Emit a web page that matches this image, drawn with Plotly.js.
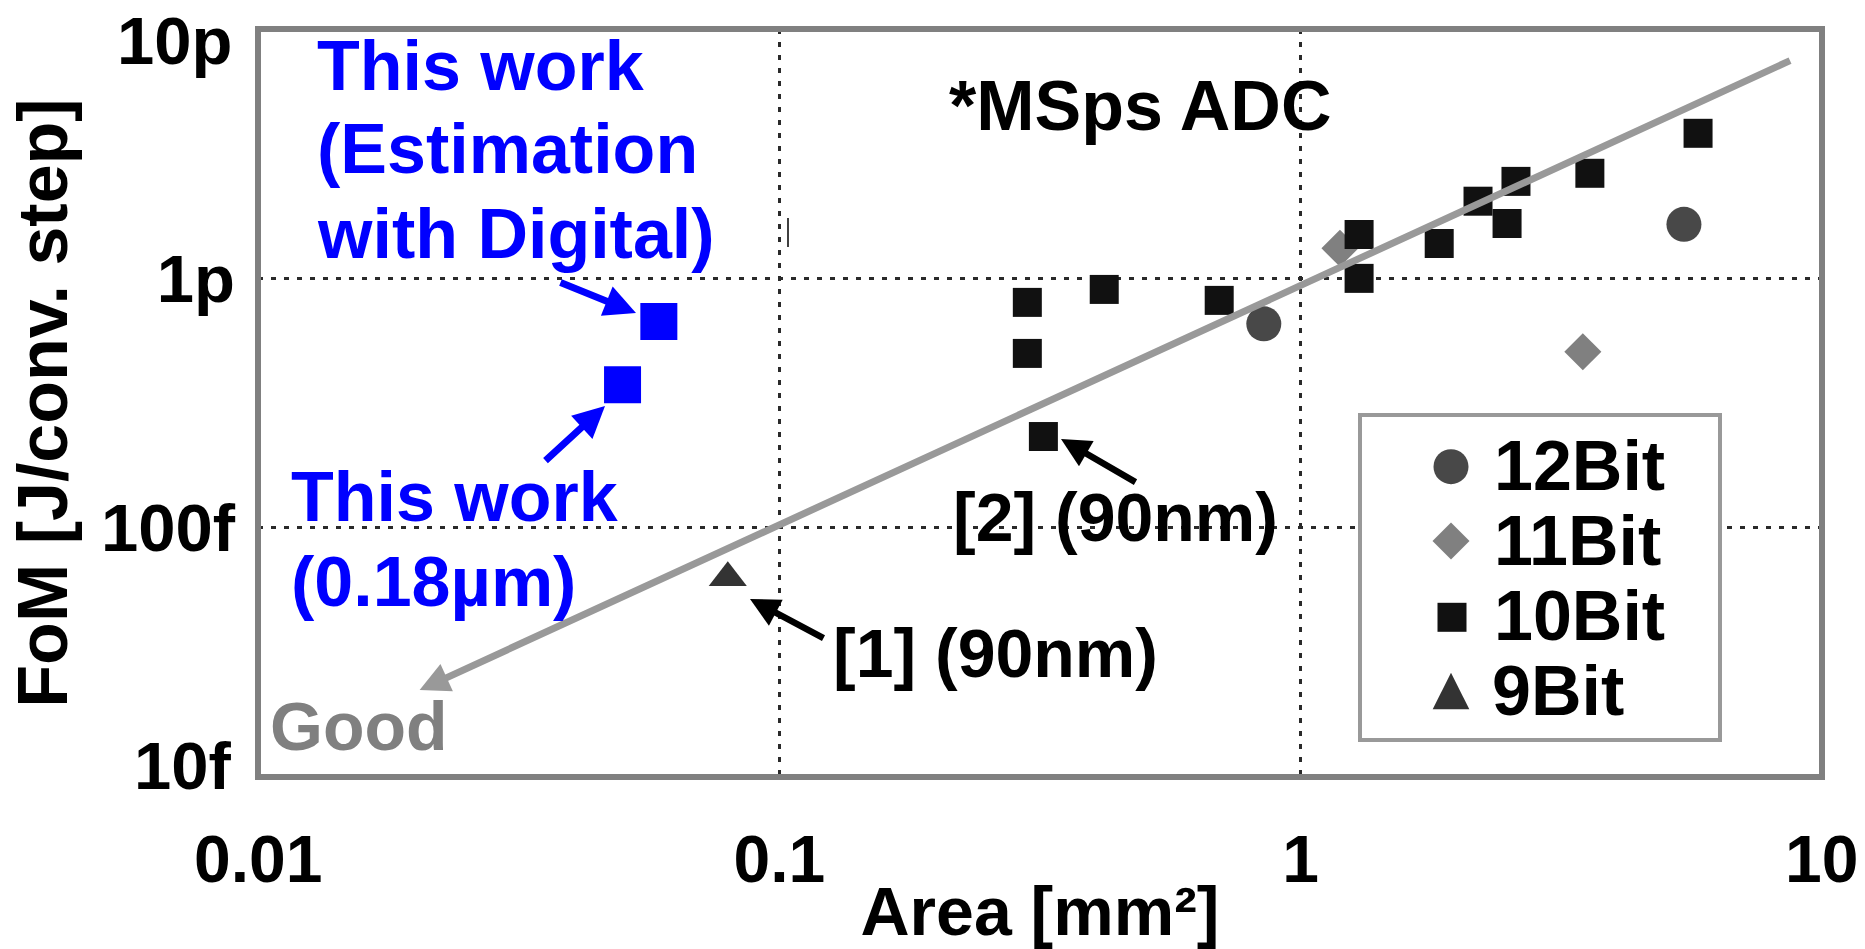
<!DOCTYPE html>
<html>
<head>
<meta charset="utf-8">
<script src="https://cdn.plot.ly/plotly-3.0.1.min.js"></script>
<style>html,body{margin:0;padding:0;background:#fff;}#chart{width:1865px;height:949px;}</style>
</head>
<body>
<div id="chart"></div>
<script>
// ---------------- data (Area in mm^2, FoM in J/conv. step) ----------------
const bit12Area = [0.850, 5.44];
const bit12FoM  = [0.657e-12, 1.647e-12];

const bit11Area = [1.19, 3.48];
const bit11FoM  = [1.32e-12, 0.508e-12];

const bit10Area = [0.299, 0.299, 0.420, 0.698, 1.295, 1.295, 1.845, 2.19, 2.49, 2.59, 3.59, 5.79, 0.321];
const bit10FoM  = [0.801e-12, 0.500e-12, 0.903e-12, 0.816e-12, 1.50e-12, 1.00e-12, 1.38e-12, 2.04e-12, 1.66e-12, 2.45e-12, 2.64e-12, 3.82e-12, 0.232e-12];

const bit9Area = [0.0796];
const bit9FoM  = [63e-15];

const thisWorkArea = [0.0587, 0.0500];
const thisWorkFoM  = [0.671e-12, 0.374e-12];

// trend line ("Good" direction), start -> arrow tip
const trendArea = [8.75, 0.0204];
const trendFoM  = [7.52e-12, 2.23e-14];

const xTickVals = [0.01, 0.1, 1, 10];
const xTickText = ['0.01', '0.1', '1', '10'];
const yTickVals = [1e-14, 1e-13, 1e-12, 1e-11];
const yTickText = ['10f', '100f', '1p', '10p'];

const legendNames = ['12Bit', '11Bit', '10Bit', '9Bit'];

// ---------------- layout helpers ----------------
const W = 1865, H = 949;
const M = {l: 258, r: 43, t: 29, b: 172};
const PW = W - M.l - M.r, PH = H - M.t - M.b;
const EPS = 0.0005;
const XR = [-2 - EPS, 1 + EPS], YR = [-14 - EPS, -11 + EPS];
const fx = p => (p - M.l) / PW;            // pixel x -> paper
const fy = p => (H - M.b - p) / PH;        // pixel y -> paper
const lx = p => XR[0] + (XR[1] - XR[0]) * fx(p);   // pixel x -> log10 axis value
const ly = p => YR[0] + (YR[1] - YR[0]) * fy(p);   // pixel y -> log10 axis value
const FONT = 'Liberation Sans, Arial, Helvetica, sans-serif';

function label(text, left, baseline, size, color, anchor) {
  return {
    xref: 'paper', yref: 'paper', x: fx(left), y: fy(baseline - 0.3465 * size),
    xanchor: anchor || 'left', yanchor: 'middle', showarrow: false, text: text,
    font: {family: FONT, size: size, color: color, weight: 'bold'}
  };
}
function arrow(tipX, tipY, dx, dy, color, width) {
  return {
    xref: 'x', yref: 'y', x: lx(tipX), y: ly(tipY), ax: dx, ay: dy,
    text: '', showarrow: true, arrowhead: 2, arrowsize: 0.9, arrowwidth: width,
    arrowcolor: color, standoff: 0, startstandoff: 0
  };
}

const markerLine = {width: 0};
const traces = [
  {x: bit12Area, y: bit12FoM, name: legendNames[0], type: 'scatter', mode: 'markers',
   marker: {symbol: 'circle', size: 35, color: '#484848', line: markerLine}},
  {x: bit11Area, y: bit11FoM, name: legendNames[1], type: 'scatter', mode: 'markers',
   marker: {symbol: 'diamond', size: 28.5, color: '#808080', line: markerLine}},
  {x: bit10Area, y: bit10FoM, name: legendNames[2], type: 'scatter', mode: 'markers',
   marker: {symbol: 'square', size: 29, color: '#111111', line: markerLine}},
  {x: bit9Area, y: bit9FoM, name: legendNames[3], type: 'scatter', mode: 'markers',
   marker: {symbol: 'triangle-up', size: 33, color: '#333333', line: markerLine}},
  {x: thisWorkArea, y: thisWorkFoM, name: 'This work', type: 'scatter', mode: 'markers',
   marker: {symbol: 'square', size: 37, color: '#0000ff', line: markerLine}}
];

const gridStyle = {showgrid: true, gridcolor: '#2a2a2a', gridwidth: 2.5, griddash: '5px,8px'};

const annotations = [
  // trend line with arrow pointing to "Good"
  {xref: 'x', yref: 'y', axref: 'x', ayref: 'y',
   x: Math.log10(trendArea[1]), y: Math.log10(trendFoM[1]),
   ax: Math.log10(trendArea[0]), ay: Math.log10(trendFoM[0]),
   text: '', showarrow: true, arrowhead: 2, arrowsize: 0.85, arrowwidth: 7,
   arrowcolor: '#999999', standoff: 0, startstandoff: 0},
  arrow(636, 313, -77, -31, '#0000ff', 7),
  arrow(605, 406, -61, 56, '#0000ff', 7),
  arrow(750, 599, 75, 40, '#000000', 6.5),
  arrow(1061, 439, 76, 44, '#000000', 6.5),
  // end y tick labels (drawn slightly inside the range, as in the original)
  label(yTickText[3], 234, 64, 67, '#000000', 'right'),
  label(yTickText[0], 234, 789, 67, '#000000', 'right'),
  label('This work', 315, 90, 70, '#0000ff'),
  label('(Estimation', 315, 173.3, 70, '#0000ff'),
  label('with Digital)', 315, 258.3, 70, '#0000ff'),
  label('This work', 289, 521.7, 70, '#0000ff'),
  label('(0.18µm)', 289, 606.7, 70, '#0000ff'),
  label('*MSps ADC', 947, 130, 70, '#000000'),
  label('[1] (90nm)', 831, 677, 68, '#000000'),
  label('[2] (90nm)', 951, 541, 68, '#000000'),
  label('Good', 268, 750, 68, '#808080'),
  label(legendNames[0], 1492, 490.7, 70, '#000000'),
  label(legendNames[1], 1492, 565, 70, '#000000'),
  label(legendNames[2], 1492, 640, 70, '#000000'),
  label(legendNames[3], 1490, 715, 70, '#000000')
];

function pxShape(type, cx, cy, extra) {
  return Object.assign({type: type, layer: 'above', xref: 'paper', yref: 'paper',
    xsizemode: 'pixel', ysizemode: 'pixel', xanchor: fx(cx), yanchor: fy(cy),
    line: {width: 0}}, extra);
}

const shapes = [
  // plot frame
  {type: 'rect', xref: 'paper', yref: 'paper', x0: 0, x1: 1, y0: 0, y1: 1,
   line: {color: '#808080', width: 6}, fillcolor: 'rgba(0,0,0,0)', layer: 'above'},
  // legend box
  {type: 'rect', xref: 'paper', yref: 'paper', x0: fx(1360), x1: fx(1720), y0: fy(740), y1: fy(415),
   line: {color: '#999999', width: 4}, fillcolor: '#ffffff', layer: 'above'},
  // legend symbols
  pxShape('circle', 1451, 466.7, {x0: -17.5, x1: 17.5, y0: -17.5, y1: 17.5, fillcolor: '#484848'}),
  pxShape('path', 1451, 541, {path: 'M0,18.5L18.5,0L0,-18.5L-18.5,0Z', fillcolor: '#808080'}),
  pxShape('rect', 1452, 617.3, {x0: -14.5, x1: 14.5, y0: -14.5, y1: 14.5, fillcolor: '#111111'}),
  pxShape('path', 1451, 691, {path: 'M-18.3,-18.3L18.3,-18.3L0,18.3Z', fillcolor: '#333333'}),
  // small stray mark
  {type: 'line', xref: 'paper', yref: 'paper', x0: fx(788), x1: fx(788), y0: fy(247), y1: fy(218),
   line: {color: '#000000', width: 1.5}, layer: 'above'}
];

const layout = {
  width: W, height: H,
  margin: M,
  paper_bgcolor: '#ffffff', plot_bgcolor: '#ffffff',
  showlegend: false,
  xaxis: Object.assign({
    type: 'log', range: XR, tickvals: xTickVals, ticktext: xTickText,
    ticks: '', showline: false, zeroline: false, ticklabelstandoff: 38,
    ticklabeloverflow: 'allow',
    tickfont: {family: FONT, size: 66, color: '#000000', weight: 'bold'},
    title: {text: 'Area [mm²]', standoff: 0,
            font: {family: FONT, size: 68, color: '#000000', weight: 'bold'}}
  }, gridStyle),
  yaxis: Object.assign({
    type: 'log', range: YR, tickvals: yTickVals.slice(1, 3), ticktext: yTickText.slice(1, 3),
    ticks: '', showline: false, zeroline: false, ticklabelstandoff: 22,
    ticklabeloverflow: 'allow',
    tickfont: {family: FONT, size: 67, color: '#000000', weight: 'bold'},
    title: {text: 'FoM [J/conv. step]', standoff: 10,
            font: {family: FONT, size: 70, color: '#000000', weight: 'bold'}}
  }, gridStyle),
  annotations: annotations,
  shapes: shapes
};

Plotly.newPlot('chart', traces, layout, {displayModeBar: false, staticPlot: true});
</script>
</body>
</html>
